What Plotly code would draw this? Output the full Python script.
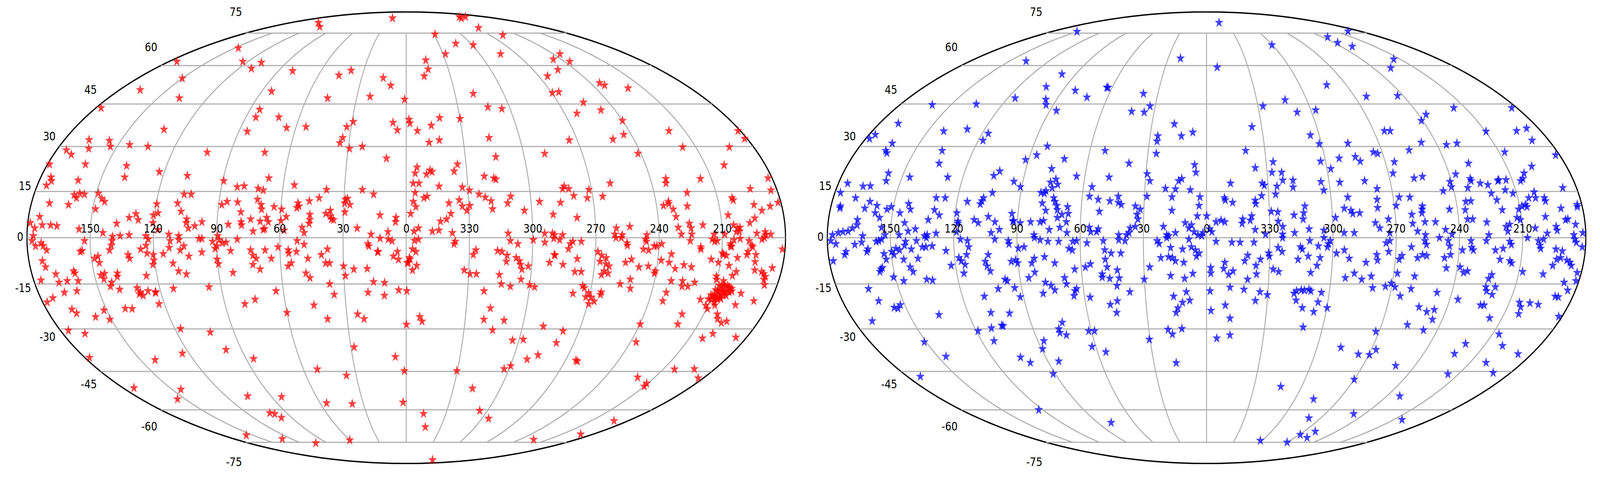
import numpy as np
import plotly.graph_objects as go

# star positions, (RA, Dec) in degrees

# red map, northern half
red_north_a = [
    (137, 81), (115, 78.5), (28, 84), (147, 67.7), (174, 61.7), (124, 61.7), (109, 61.3), (111, 58.8),
    (80, 57.8), (46, 56), (39, 58), (15.5, 55), (10, 52), (150, 54.8), (167, 50.3), (137, 47.2),
    (84, 49.8), (47.5, 47.2), (22, 47.8), (177, 43.6), (84.5, 43), (84.4, 40.2), (71.5, 40.2), (7.3, 38.3),
    (4.8, 35.7), (29.3, 38.6), (32.4, 36.8), (65, 36.5), (54.6, 36.8), (85.5, 35.2), (131, 35.9), (33.6, 33),
    (34.7, 31.2), (29.3, 29.3), (22.8, 30), (10, 26), (72.5, 28), (102, 28), (134, 30), (144, 30.6),
    (153.5, 30), (156, 32), (167, 32.3), (164, 29.3), (175, 28.8), (171, 27.3), (179, 24), (161, 24),
    (140, 23.5), (138.7, 19.7), (122.5, 21.5), (108, 20.2), (89.5, 18.5), (67.6, 19.4), (54.6, 17.1), (82.3, 16.5),
    (79, 16.8), (72, 16), (69.4, 15.4), (38.7, 15.6), (21.3, 15.6), (15.8, 14.1), (175, 19.7), (174, 18.5),
    (175.5, 17), (161, 18.7), (160.5, 13.9), (159, 12.9), (158, 14.4), (155.6, 14.1), (149, 14.4), (146.7, 12.7),
    (145, 11.7), (171.3, 11.2), (162, 10.7), (148.7, 9.3), (174.7, 6.8), (178.8, 4.8), (176.5, 3.1), (173, 4.1),
    (169, 4.1), (166, 3.8), (155.4, 2.8), (137.7, 4.6), (132, 6.5), (129, 7.7), (127.6, 5.8), (120.6, 7.3),
    (119.7, 10.9), (118.5, 8.0), (120.5, 4.8), (118, 2.6), (109.8, 11.2), (107.6, 8.5), (107.4, 14.1), (104, 14.1),
    (104.5, 6), (104.7, 4.8), (103.5, 3.1), (100.5, 3.8), (97.2, 5.1), (88.5, 10.7), (86.1, 11.7), (81, 11.5),
    (79, 8.3), (78.6, 5.1), (78.3, 4.1), (84.6, 4.3), (74.1, 6), (72.7, 2.1), (71.6, 12.4), (69.6, 10.7),
    (69.2, 9.2), (69.5, 5.3), (66.5, 6.5), (65.6, 5.1), (67.9, 2.6), (63.3, 10), (59.6, 9.2), (57.2, 6.8),
    (59.6, 5.5), (52, 11.2), (52.4, 9.7), (51.4, 10.2), (46.6, 11.9), (42, 12.9), (49.5, 3.3), (48.5, 1.6),
    (45.9, 5.8), (46.2, 4.6), (46, 7.5), (38.4, 7.8), (36.3, 8.8), (35.6, 6), (34.6, 5.8), (36.2, 7),
    (29.6, 11.2), (28.3, 12.7), (27, 10.7), (29.3, 8.3), (29.3, 12.4), (23.3, 3.1), (12.5, 7.3), (4.9, 6.5),
    (5.1, 5.1), (16.7, 1.1), (8.7, 1.9), (58, 2.4), (67.3, 2.9), (89.5, 0.6), (112.7, 1.1), (108, 0.6),
    (123.6, 0.6), (135.8, 0.6), (131.5, 0.9), (144, 1.6), (139.4, 0.4), (177, 0.6),
]

red_north_b = [
    (238, 85), (224, 85), (248, 84), (267, 77.9), (328.5, 74.4), (256, 74), (314, 69.8), (299, 69.1),
    (328, 65), (283, 65), (345, 62.3), (344.4, 58.5), (347.8, 55.7), (234.5, 65), (246, 62.7), (236, 61.7),
    (252.3, 58.3), (264, 55.7), (234, 53), (232.4, 52.1), (219.4, 51), (269.6, 49.2), (265.3, 49.5), (318.7, 48.9),
    (1, 46.7), (255, 45.6), (312.5, 43.9), (304.7, 43.3), (248, 42.8), (263, 41.6), (341.3, 40), (330, 39.7),
    (358.5, 39.4), (358, 38.1), (346.3, 37.3), (354, 35.4), (240, 39), (244, 34.1), (251, 32.5), (274.2, 32.2),
    (316.2, 33), (342.6, 32.2), (348, 31.4), (218.5, 35.4), (181.3, 35.4), (181.3, 32.7), (216.8, 29.8), (192.6, 29.8),
    (241.5, 27.6), (289.2, 27.6), (314.5, 26.5), (200.7, 23.7), (334.3, 24), (336.2, 21.7), (354.6, 23), (348.2, 22),
    (350, 20.7), (347.2, 21.5), (355.6, 21), (356.6, 17.7), (353.8, 17.7), (344, 16.7), (321.5, 20), (316.9, 19.4),
    (316, 19), (232.4, 19.2), (233, 17.7), (215.4, 19.2), (182, 19.4), (260.3, 17.7), (284, 15.9), (281, 15.9),
    (283, 16.7), (271.3, 15.6), (332.7, 16.4), (329.3, 15.4), (355.7, 14.6), (192.8, 15.9), (183, 15.4), (224, 14.6),
    (203, 12.9), (202.6, 12.2), (193.2, 10.7), (185.6, 10.2), (181.4, 11.4), (190, 8.8), (194, 6.3), (196.6, 4.8),
    (206.5, 7.3), (204.4, 4.1), (202.7, 3.1), (201.5, 3.3), (203.3, 1.9), (201.8, 2.1), (193.6, 1.4), (189.4, 0.9),
    (234, 11.7), (234, 11), (236.7, 10.4), (232.3, 9.2), (225.3, 10.2), (231.4, 6.8), (230.8, 3.3), (225.4, 4.6),
    (224.7, 3.1), (219, 4.1), (229.4, 1.1), (224.5, 1.1), (245.8, 0.9), (253.8, 3.6), (260.2, 3.1), (261, 1.1),
    (257.5, 0.9), (265.2, 13.4), (272.7, 12.9), (279.1, 13.6), (285.9, 11.4), (295.9, 11.7), (289.9, 7.5), (278.6, 6.5),
    (303.5, 8.8), (309.6, 13.4), (311.3, 11.2), (319.2, 11.9), (318.7, 9.3), (321.9, 13.1), (324.8, 14.1), (329.5, 10.4),
    (333.1, 10.2), (331, 8.8), (334.5, 12.2), (339.5, 11.2), (338.7, 7.8), (340.8, 6), (343.7, 5.3), (349.9, 13.4),
    (351.5, 12.9), (356.6, 11.7), (355.4, 10), (357.9, 7.8), (354.2, 3.1), (356.3, 2.1), (347.6, 2.1), (344.5, 2.4),
    (338.1, 1.6), (311.6, 1.4), (294.3, 1.4), (290.6, 1.4), (289.6, 0.9), (285.8, 0.9), (208.8, 1.1), (213.8, 1.1),
    (189.6, 1.9), (187, 1.1),
]

# red map, southern half
red_south_a = [
    (177.6, -1), (176, -2.7), (173.3, -1.7), (172.4, -2.6), (170.9, -4), (173.6, -7.5), (172.6, -9.5), (176.5, -13.8),
    (168.5, -11.8), (168.1, -14.5), (163.9, -14), (159.6, -10.8), (159.2, -11.5), (158.6, -14), (160.8, -17.3), (167.2, -17.8),
    (174, -19.6), (177.8, -21), (167.3, -23.4), (166, -24.7), (157.4, -25.9), (151.5, -23.7), (150.9, -26.8), (140.4, -23.1),
    (137, -23.2), (175.8, -30.5), (168.4, -31.6), (177.4, -40), (141.7, -40.8), (123.7, -38.5), (117, -29.9), (102.4, -31.1),
    (98.5, -37.2), (85.8, -40.4), (28.3, -36.3), (6.1, -39.7), (51.9, -44.2), (35.8, -46.5), (173, -51.2), (144.4, -51.8),
    (155.2, -55.6), (105.6, -54.4), (83.4, -54.7), (55.5, -57.2), (37.8, -57.5), (102.7, -61.3), (99.8, -61.7), (98, -63.3),
    (156.6, -71.4), (129.4, -73.2), (103.2, -75.4), (60.6, -73.9),
    (152.7, -1), (154.1, -4.2), (155, -4.5), (139.6, -1), (140, -2.5), (141, -4), (148.6, -6.7), (146.8, -6),
    (146.5, -8.1), (147, -12.1), (145, -11.6), (145.9, -13.4), (142.6, -14.5), (143.7, -15.8), (138.8, -11.5), (139.2, -12.6),
    (139.7, -16.8), (132.4, -5.5), (131.8, -6.7), (126.2, -3.7), (123.6, -2.5), (122.4, -0.5), (123.3, -5), (125.1, -12.3),
    (120.4, -5.5), (120.4, -7.3), (121.1, -8.7), (115.6, -5.2), (112.6, -3.2), (112.1, -1), (107.9, -0.7), (107.4, -4),
    (105.6, -2.7), (103.5, -6), (111.4, -8.3), (109.2, -10.8), (105.7, -11.8), (98.4, -0.3), (97, -0.3), (97.2, -4.7),
    (91.9, -1.2), (90, -2.7), (88.7, -0.7), (87.3, -1.7), (85.5, -1.5), (90.8, -3.5), (90.2, -7), (89.7, -8.5),
    (83.5, -4.2), (80.2, -0.5), (83.2, -11.3), (95.9, -16), (113.4, -16.5), (131, -16.3), (130, -17.7), (129.1, -18.8),
    (130.8, -18.3), (126.1, -17.3), (122.6, -17.6), (122.6, -17.9), (122.7, -21.6), (80.1, -21.6), (74.6, -20.1), (63.6, -17.3),
    (60, -24.5), (45.9, -22), (40, -26.6), (24.5, -25), (21.4, -26.6), (74, -4), (73, -5.7), (71.5, -6.7),
    (73.3, -8.7), (70, -10.2), (67.1, -4), (64.3, -6.7), (60.9, -3), (56.1, -4), (55.9, -5), (52.2, -4.5),
    (54.9, -8.2), (56.5, -9.2), (51.8, -1), (48.5, -2.2), (46.9, -6.7), (48.2, -11.5), (46.4, -13), (40.4, -5.5),
    (37.4, -3.7), (38.5, -8.2), (36.6, -8.2), (30, -9.2), (25.1, -10.2), (29.3, -12.3), (37.1, -15), (35.3, -18.5),
    (18.7, -10), (15.8, -14.3), (10.5, -14.6), (18.7, -17.8), (10.7, -18.8), (18.2, -2), (17.8, -2.7), (13.6, -4.5),
    (13.4, -4.6), (12.4, -0.2), (8.5, -0.5), (6.1, -6), (4.2, -4.5), (3.7, -7), (3.7, -17), (6.7, -1),
]

red_south_b = [
    (356.1, -0.9), (354.2, -0.5), (357, -3.7), (355.4, -4.5), (358.5, -6.5), (359, -8), (355, -9), (357, -10.5),
    (359.7, -17.3), (359.9, -28.5), (353.2, -25.9), (351.9, -27.4), (1.1, -44.8), (2.2, -56.9), (346.9, -61.6), (343.4, -67.5),
    (290, -86), (330.3, -44.8), (317.8, -51.4), (305.8, -60.3), (294.8, -63.7), (225, -73.6), (192, -70.9), (191.5, -64.7),
    (302.9, -44.1), (299.8, -43), (292, -40.6), (286.8, -39.1), (264.1, -41), (263, -41.3), (220.3, -47.2), (210.6, -49.5),
    (210, -50.6), (203.4, -44.2), (192, -44.1), (183.1, -47.5), (303.4, -33.9), (297.8, -33.6), (279.5, -34.8), (289.3, -29.1),
    (278.3, -30.7), (315.1, -30.4), (320.5, -26.8), (310.1, -27.1), (318, -23), (322, -17.3), (237, -34.5), (239.8, -28.4),
    (220.5, -28.4), (220.9, -25), (203, -33.2), (199.3, -31.6), (185.7, -32.9), (233.2, -20.6), (232.8, -17.8), (214.9, -20.1),
    (209.4, -23.2), (211, -22.1), (203.1, -25), (201.7, -26.6), (198.6, -27.9), (196.3, -27.4), (196.4, -21.9), (196.1, -18.1),
    (188.2, -20.6), (186.2, -15.3), (187.3, -13.6), (187, -12.6), (184.7, -9.8), (181.3, -3.7),
    (210.2, -13.5), (210.6, -12.5), (206.6, -14), (205.7, -9), (201.6, -11), (203, -12.3), (211, -8), (214.6, -7),
    (209.6, -5), (209, -5.5), (207.6, -5.7), (202.2, -6.5), (197.9, -5.5), (197.5, -4.5), (195.9, -2.5), (195.5, -3),
    (193.6, -5.5), (193.5, -7.8), (189.4, -11), (188.2, -11.7), (192.9, -10.5), (206, -2), (206, -2.7), (205.5, -2.9),
    (204.5, -0.7), (201.5, -0.3), (197.3, -1), (191.2, -0.5), (190, 0), (220.1, -3), (220, -3.7), (214.8, -0.5),
    (213.6, -1.2), (212.4, -1), (225.2, -1), (231.9, -14), (226.4, -14), (223.2, -15.8), (220.4, -14.5), (226, -15.8),
    (231.2, -10), (227.3, -8.8), (223.5, -9.5), (233.8, -5.3), (234.5, -8), (238.4, -7.3), (238.7, -2), (241, -2.7),
    (242.2, -2.7), (244.8, -4), (247.3, -3.7), (246.4, -0.5), (246, -1.2), (240.8, -11.5), (240.5, -10.8), (244.2, -9.2),
    (248.6, -9.5), (251.8, -13.5), (250.9, -16.5), (256.3, -15), (255.2, -1.7), (255, -2.5), (255.3, -8), (252.6, -7),
    (260.5, 0), (257.9, 0), (268.9, -4.5), (267, -5.7), (264.7, -6.5), (267.5, -7.7), (264.6, -8.5), (262.9, -9.2),
    (265, -10.8), (266.1, -12), (263, -11.5), (274.3, -15.6), (273.3, -16.3), (270.7, -18), (271.7, -19.3), (269, -19.4),
    (267.1, -20.7), (269.4, -21.6), (264.6, -17.7), (264.8, -18.5), (278.4, -18.1), (282.1, -2), (282.9, -3.6), (280.9, -1.2),
    (276.9, -1.2), (287.2, -0.7), (290, -0.2), (294.2, -1.5), (299.7, -0.7), (289.5, -5.5), (289.2, -5.7), (291.6, -8),
    (285.1, -8.7), (278.5, -6.8), (279.1, -11), (276, -11), (310.6, -1), (307, -2), (316.6, -4.2), (314.5, -4.5),
    (312, -5.7), (312.2, -7.7), (307.6, -6.5), (306, -7.5), (305.4, -8.7), (304.6, -10.2), (301.6, -9.2), (304.6, -13.5),
    (315.2, -12), (313.9, -15), (309.4, -15.8), (300.2, -15.3), (297.6, -16), (326.9, -4), (328.1, -5.5), (332.2, -10.5),
    (329.3, -11.7), (326.3, -11.7), (336.7, -1.2), (337.3, -2), (358.2, -7), (359.5, -8.2),
]

# the tight red clump near RA 205, Dec -18
red_clump = [
    (208, -15.5), (207, -15.8), (206, -15.4), (205, -15.7), (204, -15.5), (203, -16), (202.5, -16.3), (201.5, -16.6),
    (209, -17), (208, -17.3), (207, -17.6), (206, -17.2), (205, -17.5), (204, -17.8), (203, -17.3), (202, -17.7),
    (201, -17.4), (210.5, -18.6), (209.5, -19), (208.5, -18.8), (207.5, -19.3), (206.5, -18.9), (205.5, -19.4), (204.5, -18.6),
    (203, -18.8), (211, -20), (209.5, -20.2), (208, -19.8), (206.5, -20.1), (205, -19.9), (206.6, -22), (207.5, -21),
]

# blue map, northern half
blue_north_a = [
    (150.5, 75.8), (137.5, 61.9), (20.4, 63.1), (99.6, 56.5), (102.3, 51.5), (82.2, 50.1), (72.5, 47.5), (63.4, 51.2),
    (62.6, 51.2), (38.9, 48.9), (33, 44.2), (42.9, 42.3), (35.6, 42), (96.5, 46.7), (94.2, 44.7), (86.2, 42.6),
    (115.6, 47.2), (135.6, 45), (161, 44.7), (169.6, 38), (141.5, 35.3), (129.5, 36), (116.8, 34.5), (117.6, 32.1),
    (176.7, 34.1), (178, 32.7), (164.2, 31.1), (165, 28.6), (163.7, 27.8), (136, 28.6), (134.4, 24.3), (157.5, 21),
    (157.1, 18.5), (146.2, 19.7), (127.5, 19.7), (175.5, 17.7), (167.4, 16.7), (163.9, 16.8), (177.3, 14.6), (175.5, 10.2),
    (175.5, 9.6), (169.2, 12.9), (161.8, 11.7), (163.6, 9.5), (158, 10.4), (152.9, 9.2), (151, 10), (158.2, 8),
    (155.8, 6.5), (143, 11), (141.7, 9.2), (146.4, 8), (143.6, 4.8), (166.2, 5.8), (166.1, 4.1), (168.2, 3.1),
    (170.2, 2.1), (172.6, 1.9), (174.8, 1.6), (177.5, 0.9), (163.2, 0.6), (154.4, 3.3), (152.6, 0.9), (145.9, 0.9),
    (141.7, 2.1), (138.3, 2.8), (132.5, 5.8), (130.1, 9), (127.5, 7.3), (130.3, 12.9), (126, 12.9), (115, 11.7),
    (119.2, 8), (118.3, 5.3), (118.2, 4.6), (133.8, 0.6), (132.6, 0.9), (128.4, 1.4), (118.7, 1.9), (110.6, 5.8),
    (108.6, 4.8), (108.6, 10.9), (107.5, 12.9), (108.1, 11.9), (104, 6.8), (100.7, 5.1), (98.4, 2.6), (102.3, 1.6),
    (103.7, 14.6), (105, 20.2), (102.7, 21.7), (94.4, 18.3), (90.7, 16.5), (92.9, 7.8), (92.2, 5.3), (91.8, 5.5),
    (88.6, 4.8), (83.7, 5.1), (81.9, 0.9), (79.2, 5.1), (77.6, 5.5), (74.7, 2.6), (69.7, 3.3), (66.7, 5.1),
    (66.3, 1.6), (91.5, 25.5), (86.6, 27.1), (82.6, 30.1), (72, 25.8), (77.2, 22.5), (74, 19), (76.4, 18),
    (72.7, 17.3), (75.1, 16.2), (77.9, 15.2), (80.2, 14.6), (78.5, 14.4), (78.9, 11.2), (76.9, 8.8), (73.7, 12.9),
    (72.9, 11.7), (71.8, 10.4), (71.4, 9), (69, 7.5), (71.1, 6.5), (66.6, 10), (66, 7.8), (64.1, 20),
    (55.8, 16.5), (56.5, 13.4), (52.2, 12.4), (51.2, 8.5), (48, 19.7), (46.5, 11.9), (42.6, 13.4), (42.4, 11.4),
    (40.9, 10.7), (55.7, 3.3), (55, 1.9), (52.2, 1.9), (51.4, 2.8), (41.7, 0.9), (39, 24.3), (52.2, 28.6),
    (25.7, 27.6), (26, 31.8), (25.9, 33.6), (17.7, 37.8), (13.4, 33.6), (7.4, 34.9), (6, 23.8), (5.3, 21.3),
    (13.7, 18.5), (12.2, 19.2), (29.4, 20.8), (27.8, 18.5), (20, 16), (15.1, 15.8), (16.7, 13.2), (7.9, 15.5),
    (3.2, 13.2), (3.6, 10.4), (28.8, 13.4), (34.1, 10.2), (31.7, 9.2), (33.2, 7.5), (32.7, 6), (16.6, 8.8),
    (4.4, 7), (359.9, 7), (36.3, 3.1), (33.9, 3.6), (36.8, 1.6), (38, 0.9), (20.5, 3.6), (18.9, 0.9),
    (18, 0.6), (14.8, 1.6), (10.2, 4.8), (8.4, 3.1), (7.2, 4.1), (5.9, 1.9), (4.1, 0.9), (1.7, 1.6),
    (2.3, 0.6), (357.5, 1.9),
]

blue_north_b = [
    (340.5, 81), (194.3, 76), (234.6, 73), (236.6, 70.2), (230, 68.4), (300.5, 69.1), (215, 62.7), (227.5, 59),
    (352.3, 59.3), (282.6, 52.2), (262.8, 47.8), (243.4, 48.1), (327.1, 44.2), (313, 46.5), (308.3, 42), (297.2, 42.8),
    (216.6, 43.6), (183, 43.6), (235.7, 41.2), (240.8, 39), (335.3, 36.8), (304.7, 33.9), (301.2, 30.9), (286.2, 31.1),
    (264.2, 35.4), (261.1, 35.4), (247.6, 31.4), (235.1, 30.6), (229.2, 31.1), (209.7, 35.2), (193, 35.4), (186.4, 36.3),
    (188.8, 32.1), (207.1, 28.1), (182, 27.1), (339.9, 28.6), (255.7, 28.8), (274.5, 28.1), (272.5, 27.6), (284.4, 26.5),
    (282.5, 25), (292.8, 26), (302.5, 25), (298.1, 22.5), (265.4, 24.8), (267.7, 21), (326.5, 24.8), (335.7, 22.8),
    (327.6, 21.3), (322.8, 21.3), (322.6, 18.7), (317.6, 18.7), (332.8, 17.7), (331.8, 17), (325.7, 16.7), (317.9, 16.4),
    (348.3, 17.7), (304, 18.2), (294.8, 18), (282.5, 18.5), (303.1, 15.4), (277.1, 15.9), (257.9, 19.4), (253.6, 19.9),
    (236.8, 20.7), (228.4, 24.3), (230.4, 19.2), (230.3, 18.5), (240.8, 18.2), (240.8, 16.5), (245.2, 15.2), (232.9, 16.2),
    (226.2, 17.7), (222.7, 17.2), (217.2, 18.5), (216.6, 18.8), (213, 18.8), (206, 18.5), (204.5, 19.2), (202.8, 21),
    (197.4, 23.3), (186.7, 16.2), (201.3, 14.8), (204.7, 12.9), (201.4, 12.9), (197.2, 12.9), (197, 11.9), (207.1, 10.7),
    (208.9, 10.2), (206.5, 10), (210.7, 9.2), (212.1, 6.5), (210.6, 5.8), (215, 15.5), (211.7, 14.4), (222.2, 14.4),
    (220.3, 12.2), (218.6, 9), (226.7, 5), (226, 0.9), (217.7, 3.6), (217, 2.1), (215.9, 4.3), (203.9, 3.1),
    (198.5, 6.8), (198.3, 1.4), (193.9, 3.6), (193.5, 2.4), (189.1, 5.8), (188, 6), (184.6, 4.3), (190.4, 9.5),
    (182.4, 10), (182.2, 10.7), (181.4, 1.6), (185.7, 0.9), (235.4, 11.7), (232.9, 11.9), (236.3, 9), (235.7, 6),
    (233.3, 6), (243.8, 9.2), (251.1, 5.1), (246.5, 2.6), (243.5, 1.1), (256.6, 10.2), (257.2, 8), (256.9, 9.2),
    (256.1, 5.1), (262.1, 7.5), (262, 4.6), (259.8, 2.1), (256.1, 0.9), (267.1, 13.1), (262, 13.1), (269.1, 10.4),
    (273.4, 6), (273, 1.6), (279.7, 4.8), (277.7, 3.1), (277.9, 12.4), (278.1, 9.7), (291.9, 13.1), (294.1, 9.5),
    (291, 8.8), (290.2, 7.8), (286.9, 8), (298.6, 6.5), (294.7, 1.6), (289.9, 1.6), (304.3, 2.4), (311.3, 2.8),
    (312.9, 10.2), (313.6, 8), (314, 6), (318.3, 7.3), (318.2, 1.6), (326.6, 14.1), (329.1, 8.5), (326, 8.3),
    (325.9, 5.3), (323.8, 3.6), (323.9, 1.1), (333.4, 13.6), (336.6, 12.1), (336.4, 11), (338.5, 7), (339.2, 5.6),
    (342.8, 6), (343.1, 4.6), (336.9, 2.6), (332, 1.1), (347.5, 11.4), (351.4, 12.9), (351, 12.2), (353.1, 5.6),
    (355.5, 5.1), (351.3, 5.1), (358.5, 2.8),
]

# blue map, southern half
blue_south_a = [
    (178.4, -1), (176, -2), (178.1, -7.5), (172.2, -5.5), (171.4, -4.5), (167, -2.2), (163.7, -1.5), (161.5, -4.5),
    (160.9, -3.7), (156.8, -1.2), (155.6, -1), (154.2, -0.5), (153.5, -5.2), (152.7, -7), (156.1, -10.2), (155.2, -9.7),
    (156.8, -11), (150.9, -12.8), (146.4, -14), (164.7, -16.6), (162.1, -20.6), (155.9, -22.8), (154.2, -23.1), (152.2, -21.9),
    (170.7, -27.3), (135.1, -25.2), (151, -34.5), (145.4, -39.6), (172.2, -46.9), (119.1, -30.7), (108.5, -24.5), (111.4, -29.7),
    (104.9, -29), (105.5, -28.8), (99.2, -24.7), (113.4, -34.1), (104.1, -39.9), (100.4, -41.8), (86.8, -34.1), (89.4, -36.9),
    (83.8, -41.3), (91.2, -45.9), (73.9, -27.8), (76.7, -30), (76.7, -31.3), (73.7, -32.1), (61.4, -30.7), (58.4, -30.7),
    (62, -36.1), (55.4, -38), (30.4, -33.6), (20, -30.2), (17.9, -31.8), (12.8, -29.9), (17.3, -41.9), (123.1, -60),
    (78.9, -65.5),
    (149.7, -4.5), (147.6, -3.5), (145.9, -4), (148.7, -5.5), (143.4, -2.5), (142.9, -1.2), (144.4, -7), (141.9, -9.5),
    (140.8, -11), (140.3, -3.7), (137.7, -1), (137.5, -6.7), (135, -3), (133.3, -3), (130.3, -2.7), (133, 0),
    (135.1, -13.5), (132.4, -13.8), (123.9, -4.2), (122.1, -9), (116.8, -0.5), (118, -6.5), (117, -7.5), (115.4, -8.7),
    (114.2, -5.5), (113, -3), (116.6, -11.5), (113.5, -1), (105.6, -7.7), (103.9, -5.5), (105, -9.2), (103.7, -10.8),
    (100.5, -0.5), (101.5, -16.6), (97.3, -13.5), (96.4, -14), (94.1, -1), (93.8, -2), (93.2, -7.7), (91, -7.2),
    (90.2, -8.2), (89.4, -3.4), (86.7, -3), (93.4, -16.3), (91.6, -19.3), (109.2, -19.1), (85.7, -13), (82.5, -11.2),
    (83.5, -8.2), (82.1, -6.7), (81.7, 0), (79, -0.7), (77.2, -6.2), (75.3, -1.2), (72.5, -8.2), (70.2, -1.2),
    (80, -18.1), (78, -14.5), (75.5, -15.5), (74, -17), (68.5, -13), (67.9, -15), (63.2, -10.2), (63.5, -1.2),
    (65.4, -3.5), (63.8, -4), (61.7, -1), (58, -9.5), (56.8, -1.7), (55.5, -8.5), (64.3, -17.3), (63.3, -16.6),
    (65.1, -18.9), (57.3, -19.4), (43.5, -15.6), (37.5, -17.6), (44.1, -20.6), (47.8, -21.8), (45.2, -24.5), (50.2, -11.8),
    (50.3, -12.8), (47.6, -9.5), (46.7, -13.2), (42.8, -10.5), (42.1, -13.1), (48.3, -7), (48.4, -4), (49, -1),
    (45.4, -5), (40.8, -5), (41.7, -0.7), (38.7, -1), (30.1, -13.5), (27.2, -9.5), (23.5, -1), (22.5, -1.9),
    (21.8, -6.5), (18.9, 0), (18.1, -6.2), (17.1, -3.2), (16.3, -6.5), (14.9, -7.5), (17.3, -12.3), (11.4, -3.7),
    (10.9, -8), (10.6, -13.2), (7.2, -3), (5.3, -4), (6.6, -11.6), (4.8, -6), (3.5, -5), (8.4, -0.5),
    (9.9, -17.6), (16.2, -19.1), (11.9, -21.1), (8.3, -20.4), (14.3, -23), (15.3, -24.5), (358.3, -17.3),
]

blue_south_b = [
    (355.5, -1.2), (348, -1.5), (344.1, -1.5), (337.5, -1.5), (351.3, -8), (351.8, -10), (358, -9.7), (358, -11.5),
    (349.4, -11.9), (347.3, -10.8), (348.6, -16.1), (341.8, -16.8), (333.9, -17.6), (330.2, -18.6), (335.9, -20.5), (340.2, -13.5),
    (341.8, -7.5), (340.4, -5.7), (336.4, -9), (336, -11.8), (334.3, -7), (330.5, -5), (330.1, -6), (328.1, -10.2),
    (325.4, -11), (350.7, -22), (357.8, -23.8), (348.1, -26.4), (354.6, -33.2), (347.7, -32.1), (326, -3.2), (324.1, -4.5),
    (317.2, -18.1), (316.1, -17.3), (313.8, -17), (312.3, -17.1), (310.1, -16.8), (309.1, -17.3), (315.8, -20.4), (312.2, -22.9),
    (306.2, -24.2), (304.8, -21), (303.8, -17.8), (299.8, -22.9), (310.1, -29.4), (313.2, -50.7), (287.4, -55.6), (279.3, -63.5),
    (269.2, -71.1), (257.4, -72.6), (259.5, -69.6), (301.9, -74.1), (269.7, -75), (248.4, -61.7), (203.4, -64.2), (231.4, -54.4),
    (270, -48), (287.1, -36.4), (275.9, -38.8), (269.6, -39), (267.4, -37.2), (271.7, -30.9), (251.1, -42.9), (256.7, -28.6),
    (247.2, -30.4), (216.3, -46), (222.9, -38.6), (220.8, -35.1), (200.8, -41.8), (190.3, -45.5), (206.5, -31.8), (200.1, -35.8),
    (187.6, -38.7), (181.7, -25.8), (254.1, -22.6), (249.4, -24.2), (246, -23.5), (245, -26.8), (236, -20.1), (223.8, -22),
    (222, -22), (216.3, -26.3), (205, -21.1), (203.4, -22.6), (202.7, -24.9), (199.7, -21.3), (195.2, -21.8), (188.7, -19.1),
    (187, -19.3), (183.8, -17.1), (186.9, -14.5), (181.4, -14), (182, -11.3), (224.2, -16), (223.3, -17.3), (220, -18.5),
    (219.6, -16), (223.9, -13.3), (222.8, -12), (247.3, -17.8), (260.4, -16.6), (264.9, -19), (268.4, -16), (270.5, -14.8),
    (273.1, -15.8), (279.2, -16.3), (293.1, -13), (289, -11.5), (285.1, -13.5), (280.7, -12.5), (259.8, -12.5), (268.3, -11.5),
    (283.9, -8), (278.5, -7.3), (279, -5.5), (273.4, -4.5), (267, -5.8), (268.2, -7), (259.5, -6.5), (257.2, -5.5),
    (255.2, -5.8), (246.6, -6.5), (245.2, -9.8), (238.7, -9.5), (236.6, -11.3), (234.8, -10.8), (243.9, -5.5), (244.6, -2.7),
    (238.4, -4), (234.1, -3.2), (233.2, -4), (222.7, -4), (219.1, -3.5), (220.1, -7), (215.3, -7.5), (214.3, -8.2),
    (208.3, -11), (198.2, -11.8), (194.5, -9), (193.1, -7), (191.3, -6.5), (190.9, -4.3), (188.2, -7.3), (186.5, -8),
    (185.6, -9), (194, -3.7), (201.7, -2.5), (201.3, -3.5), (202.5, -1), (200.1, -0.5), (207.7, 0), (216.1, -1.2),
    (215.3, -2.2), (227.2, -1), (234.5, -1), (185.3, -0.5), (184.5, -1.5), (181.6, -3), (249.5, 0), (245.3, -1),
    (256.4, -1), (255.6, -2.2), (262.7, -3), (273, -1), (274.8, -1.7), (292, -6.7), (294.5, -4), (298.2, -5),
    (302.2, -2), (302.6, -3), (301.3, -1), (304.3, 0), (306.9, -2.7), (305.9, -6.5), (307.2, -9), (310, -11.3),
    (311.6, -6), (315.4, -3), (314.5, -3.7), (316.4, -7), (311, -1), (323.9, 0),
]

ra_tick_labels = [150, 120, 90, 60, 30, 0, 330, 300, 270, 240, 210]
dec_tick_labels = [75, 60, 45, 30, 15, 0, -15, -30, -45, -60, -75]

W, H = 4872, 1220
cx_list = [1237, 3674]   # map centres in px
cy, half_w, half_h = 608, 1155, 578


def to_lon(ra):
    # shift RA to [-180, 180] and flip so east is to the left
    x = np.remainder(np.asarray(ra, float) + 360, 360)
    x[x > 180] -= 360
    return -x


def split(*groups):
    pts = [p for g in groups for p in g]
    ra = [p[0] for p in pts]
    dec = [p[1] for p in pts]
    return to_lon(ra), np.array(dec)


def mollweide_theta(lat):
    phi = np.radians(lat)
    th = float(phi)
    for _ in range(60):
        d = 2 + 2 * np.cos(2 * th)
        if d < 1e-9:
            break
        th -= (2 * th + np.sin(2 * th) - np.pi * np.sin(phi)) / d
    return th


fig = go.Figure()

grid_color = "#b0b0b0"
for geo in ["geo", "geo2"]:
    glon, glat = [], []
    for lat in range(-75, 76, 15):
        xs = np.linspace(-179.9, 179.9, 361)
        glon += list(xs) + [None]
        glat += [lat] * len(xs) + [None]
    for lon in range(-150, 151, 30):
        ys = np.linspace(-75, 75, 61)
        glon += [lon] * len(ys) + [None]
        glat += list(ys) + [None]
    fig.add_trace(go.Scattergeo(
        lon=glon, lat=glat, mode="lines", geo=geo,
        line=dict(color=grid_color, width=3),
        hoverinfo="skip", showlegend=False,
    ))

red_lon, red_lat = split(red_north_a, red_north_b, red_south_a, red_south_b, red_clump)
blue_lon, blue_lat = split(blue_north_a, blue_north_b, blue_south_a, blue_south_b)

fig.add_trace(go.Scattergeo(
    lon=red_lon, lat=red_lat, mode="markers", geo="geo",
    marker=dict(symbol="star", size=20, color="red", opacity=0.75, line=dict(width=0)),
    showlegend=False,
))
fig.add_trace(go.Scattergeo(
    lon=blue_lon, lat=blue_lat, mode="markers", geo="geo2",
    marker=dict(symbol="star", size=20, color="blue", opacity=0.75, line=dict(width=0)),
    showlegend=False,
))

geo_style = dict(
    projection=dict(type="mollweide"),
    showland=False, showocean=False, showlakes=False, showrivers=False,
    showcountries=False, showcoastlines=False, showsubunits=False,
    showframe=True, framecolor="black", framewidth=3.5,
    bgcolor="white",
    lonaxis=dict(showgrid=False),
    lataxis=dict(showgrid=False),
)

doms = []
for cx in cx_list:
    doms.append(dict(
        x=[(cx - half_w) / W, (cx + half_w) / W],
        y=[1 - (cy + half_h) / H, 1 - (cy - half_h) / H],
    ))

# tick label placement (px): dec labels sit just left of each parallel's end
dec_label_y = [30, 121, 230, 348, 475, 605, 736, 861, 982, 1090, 1181]

annotations = []
font = dict(family="DejaVu Sans", size=30, color="black")
for cx in cx_list:
    for lab, ly in zip(dec_tick_labels, dec_label_y):
        xr = cx - half_w * np.cos(mollweide_theta(lab)) - 9
        annotations.append(dict(
            x=float(xr) / W, y=1 - ly / H, xref="paper", yref="paper",
            text=str(lab), showarrow=False, xanchor="right", yanchor="middle", font=font,
        ))
    for i, lab in enumerate(ra_tick_labels):
        lon = -150 + 30 * i
        xc = cx + lon / 180 * half_w
        annotations.append(dict(
            x=xc / W, y=1 - 584 / H, xref="paper", yref="paper",
            text=str(lab), showarrow=False, xanchor="center", yanchor="middle", font=font,
        ))

fig.update_layout(
    width=W, height=H,
    margin=dict(l=0, r=0, t=0, b=0),
    paper_bgcolor="white",
    geo=dict(domain=doms[0], **geo_style),
    geo2=dict(domain=doms[1], **geo_style),
    annotations=annotations,
)

# the window may be smaller than the figure: stretch the drawn figure to fill it
fit_js = """
var gd = document.getElementById('{plot_id}');
document.documentElement.style.margin = '0';
document.body.style.margin = '0';
document.documentElement.style.overflow = 'hidden';
document.body.style.overflow = 'hidden';
var sx = Math.min(1, window.innerWidth / %d);
var sy = Math.min(1, window.innerHeight / %d);
var wrap = document.createElement('div');
wrap.style.width = (%d * sx) + 'px';
wrap.style.height = (%d * sy) + 'px';
wrap.style.overflow = 'hidden';
gd.parentNode.insertBefore(wrap, gd);
wrap.appendChild(gd);
gd.style.transformOrigin = '0 0';
gd.style.transform = 'scale(' + sx + ',' + sy + ')';
""" % (W, H, W, H)

fig.write_html("out.html", post_script=fit_js, config={"displayModeBar": False})
